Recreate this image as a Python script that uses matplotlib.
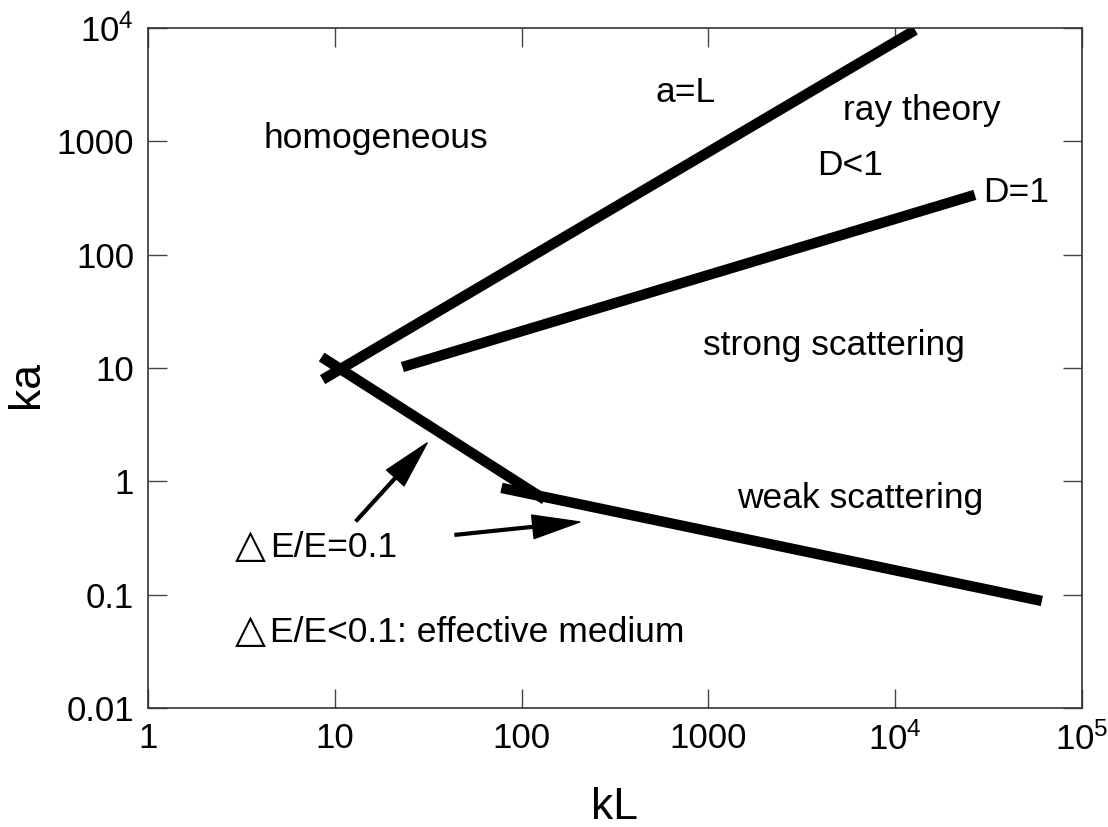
import matplotlib.pyplot as plt

plt.rcParams['font.family'] = ['Liberation Sans', 'DejaVu Sans']
plt.rcParams['mathtext.fontset'] = 'custom'
plt.rcParams['mathtext.rm'] = 'Liberation Sans'

# boundary lines (kL, ka)
aL_x = [8.6, 12800]
aL_y = [7.9, 9600]
d1_x = [23, 26700]
d1_y = [10.2, 337]
de_upper_x = [8.5, 133]
de_upper_y = [12.5, 0.69]
de_lower_x = [78, 61000]
de_lower_y = [0.875, 0.088]

# arrows pointing at the dE/E = 0.1 lines: (tail, tip)
arrows = [((13.0, 0.447), (31.2, 2.18)),
          ((44.0, 0.337), (205.0, 0.438))]

# region labels: (x, y, text)
labels = [(4.13, 877, 'homogeneous'),
          (518, 2233, 'a=L'),
          (5256, 1549, 'ray theory'),
          (3814, 506, 'D<1'),
          (29500, 292, 'D=1'),
          (935, 13.1, 'strong scattering'),
          (1422, 0.582, 'weak scattering')]

# delta labels: triangle drawn at its own size, text after it
delta_x = 2.93
delta_text_x = 4.5
delta_labels = [(0.215, 'E/E=0.1'),
                (0.0382, 'E/E<0.1: effective medium')]

xticks = [1, 10, 100, 1000, 1e4, 1e5]
xticklabels = ['1', '10', '100', '1000', r'$\mathregular{10^4}$', r'$\mathregular{10^5}$']
yticks = [0.01, 0.1, 1, 10, 100, 1000, 1e4]
yticklabels = ['0.01', '0.1', '1', '10', '100', '1000', r'$\mathregular{10^4}$']

fig = plt.figure(figsize=(11.08, 8.27), dpi=100)
ax = fig.add_axes([0.1336, 0.1439, 0.8429, 0.8222])
ax.set_xscale('log')
ax.set_yscale('log')
ax.set_xlim(1, 1e5)
ax.set_ylim(0.01, 1e4)

lw = 7.5
for xs, ys in [(aL_x, aL_y), (d1_x, d1_y), (de_upper_x, de_upper_y), (de_lower_x, de_lower_y)]:
    ax.plot(xs, ys, color='black', linewidth=lw, solid_capstyle='butt')

for tail, tip in arrows:
    ax.annotate('', xy=tip, xytext=tail,
                arrowprops=dict(facecolor='black', edgecolor='black', width=2,
                                headwidth=17, headlength=34, shrink=0))

fs = 25.5
for x, y, s in labels:
    ax.text(x, y, s, fontsize=fs, ha='left', va='baseline')

for y, s in delta_labels:
    ax.text(delta_x, y, '\u25b3', fontsize=29, ha='left', va='baseline',
            family=['DejaVu Sans'])
    ax.text(delta_text_x, y, s, fontsize=fs, ha='left', va='baseline')

ax.set_xticks(xticks)
ax.set_xticklabels(xticklabels)
ax.set_yticks(yticks)
ax.set_yticklabels(yticklabels)
ax.minorticks_off()
ax.tick_params(which='major', direction='in', length=14, width=1, color='#444444',
               top=True, right=True, labelsize=25)
ax.tick_params(axis='x', pad=10)
ax.tick_params(axis='y', pad=10)
for sp in ax.spines.values():
    sp.set_color('#333333')
    sp.set_linewidth(1.2)

ax.set_xlabel('kL', fontsize=32)
ax.set_ylabel('ka', fontsize=32)
ax.xaxis.set_label_coords(0.5, -0.116)
ax.yaxis.set_label_coords(-0.108, 0.476)

fig.savefig('out.png', dpi=100)
